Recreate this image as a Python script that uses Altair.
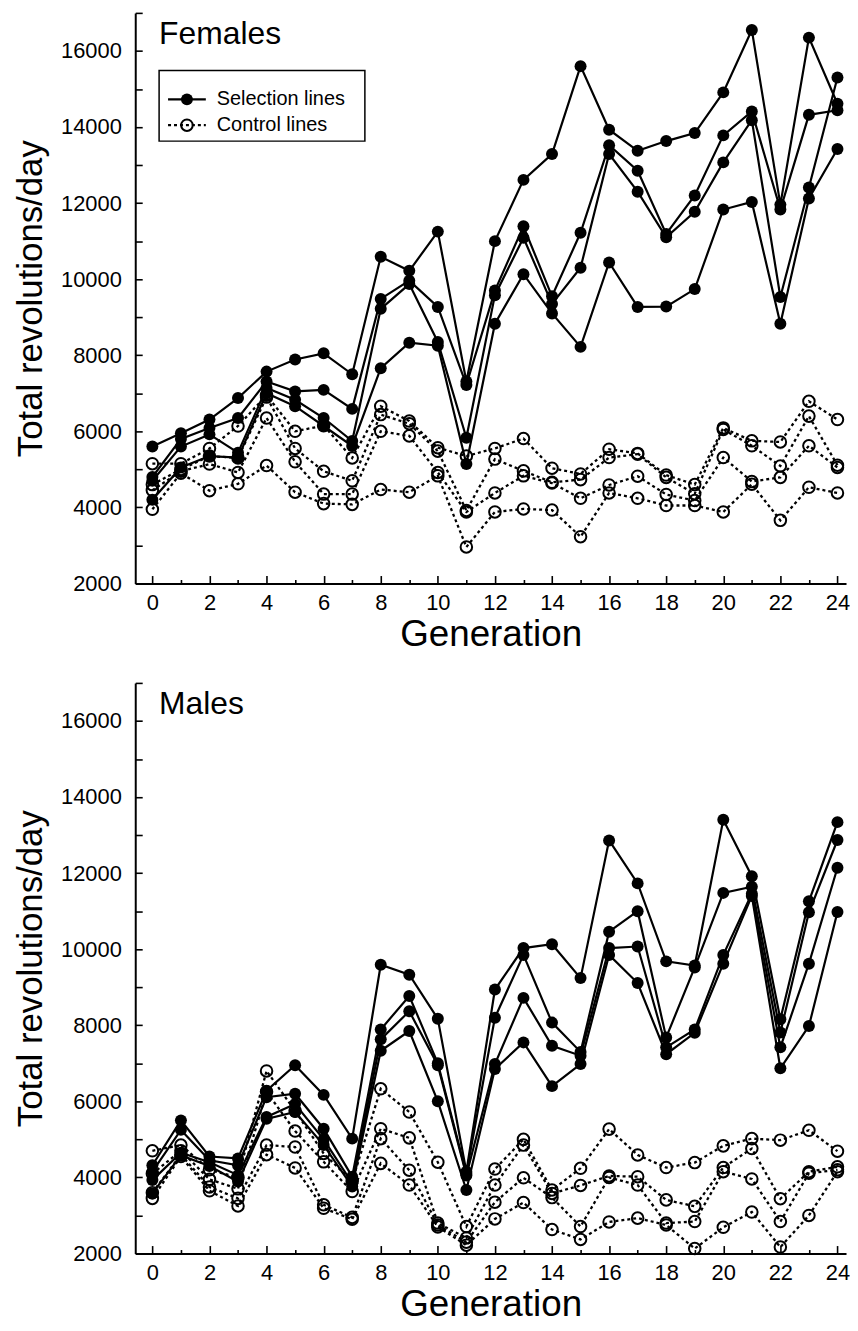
import altair as alt
import pandas as pd

generations = list(range(25))

# ---- Females: selection lines (filled circles) ----
fem_sel_1 = [5600, 5950, 6310, 6875, 7570, 7890, 8050, 7500, 10590, 10220, 11250, 7310, 11000,
             12610, 13290, 15600, 13930, 13375, 13630, 13840, 14910, 16550, 11960, 16350, 14610]
fem_sel_2 = [4800, 5800, 6090, 6350, 7310, 7050, 7090, 6590, 9480, 9960, 9270, 7220, 9700,
             11390, 9550, 11220, 13520, 12850, 11190, 12200, 13780, 14410, 11830, 14320, 14440]
fem_sel_3 = [4700, 5600, 5920, 5440, 7140, 6830, 6350, 5745, 9220, 9870, 8350, 5830, 9580,
             11090, 9350, 10300, 13290, 12300, 11100, 11770, 13070, 14180, 9530, 12410, 15300]
fem_sel_4 = [4200, 5050, 5350, 5310, 7000, 6660, 6140, 5615, 7660, 8330, 8250, 5140, 8830,
             10130, 9100, 8220, 10440, 9270, 9280, 9740, 11830, 12030, 8830, 12120, 13420]

# ---- Females: control lines (open circles) ----
fem_ctl_1 = [5150, 5150, 5550, 6140, 6950, 6000, 6150, 5300, 6660, 6270, 5570, 5350, 5550,
             5810, 5030, 4880, 5530, 5420, 4850, 4600, 6090, 5750, 5720, 6790, 6310]
fem_ctl_2 = [4600, 5000, 5350, 5300, 6900, 5550, 4950, 4700, 6440, 6200, 5480, 3920, 5270,
             4960, 4660, 4730, 5310, 5400, 4790, 4360, 6050, 5620, 5090, 6400, 5110]
fem_ctl_3 = [4450, 4950, 5140, 4920, 6350, 5200, 4350, 4350, 6000, 5880, 4920, 3880, 4380,
             4830, 4640, 4240, 4590, 4820, 4340, 4180, 5310, 4680, 4790, 5620, 5050]
fem_ctl_4 = [3950, 4900, 4440, 4620, 5100, 4400, 4100, 4080, 4470, 4400, 4830, 2960, 3880,
             3960, 3930, 3230, 4380, 4240, 4050, 4050, 3880, 4610, 3660, 4530, 4380]

# ---- Males: selection lines ----
mal_sel_1 = [4320, 5500, 4550, 4500, 6280, 6950, 6170, 5020, 9590, 9330, 8170, 4150, 8940,
             10030, 10130, 9240, 12860, 11730, 9680, 9570, 13400, 11920, 8160, 11260, 13340]
mal_sel_2 = [4150, 5250, 4450, 4320, 6110, 6200, 5280, 4020, 7890, 8770, 7000, 4100, 8200,
             9850, 8070, 7300, 10460, 11000, 7680, 9520, 11480, 11640, 7810, 10970, 12870]
mal_sel_3 = [3930, 4650, 4400, 4060, 5590, 5930, 5000, 3850, 7630, 8370, 6950, 4050, 6980,
             8720, 7460, 7200, 10030, 10070, 7420, 7890, 9850, 11460, 7420, 9620, 12140]
mal_sel_4 = [3580, 4580, 4300, 3890, 5540, 5720, 4850, 3760, 7330, 7850, 6000, 3670, 6850,
             7550, 6400, 6980, 9850, 9110, 7240, 7800, 9620, 11400, 6870, 7980, 10980]

# ---- Males: control lines ----
mal_ctl_1 = [4700, 4850, 4200, 4000, 6800, 5750, 4630, 3900, 6330, 5720, 4400, 2710, 4220,
             5000, 3670, 4240, 5270, 4590, 4260, 4390, 4830, 5020, 4980, 5240, 4690]
mal_ctl_2 = [4100, 4700, 3950, 3700, 6250, 5220, 4410, 3630, 5280, 5040, 2800, 2410, 3800,
             4850, 3580, 3790, 4040, 4020, 3410, 3240, 4260, 4760, 3440, 4150, 4280]
mal_ctl_3 = [3600, 4600, 3750, 3450, 4850, 4800, 3280, 2950, 5020, 4190, 2750, 2300, 3350,
             3990, 3470, 2710, 4000, 3800, 2800, 2840, 4150, 3960, 2840, 4110, 4200]
mal_ctl_4 = [3450, 4550, 3650, 3250, 4600, 4250, 3190, 2900, 4370, 3800, 2700, 2220, 2910,
             3340, 2630, 2370, 2830, 2930, 2750, 2130, 2690, 3090, 2170, 3000, 4150]

x_label_values = list(range(0, 25, 2))
x_minor_values = list(range(1, 25, 2))
y_label_values = list(range(2000, 16001, 2000))
y_tick_values = list(range(2000, 17001, 1000))

W, H = 715, 574
FONT = "Liberation Sans"


def long_df(lines, prefix):
    rows = []
    for i, vals in enumerate(lines):
        for g, v in zip(generations, vals):
            rows.append({"gen": g, "val": v, "line": f"{prefix}{i + 1}"})
    return pd.DataFrame(rows)


def panel(sel_lines, ctl_lines, label, with_legend):
    sel = long_df(sel_lines, "S")
    ctl = long_df(ctl_lines, "C")
    xs = alt.Scale(domain=[-0.6, 24.3], nice=False, zero=False)
    ys = alt.Scale(domain=[2000, 17000], nice=False, zero=False)

    axes = alt.Chart(sel).mark_point(opacity=0).encode(
        x=alt.X("gen:Q", scale=xs, axis=alt.Axis(
            values=x_label_values, ticks=False, tickSize=0, labelPadding=9, format="d",
            title="Generation", titlePadding=3, titleFontSize=37, labelFontSize=22)),
        y=alt.Y("val:Q", scale=ys, axis=alt.Axis(
            values=y_label_values, ticks=False, tickSize=0, labelPadding=14, format="d",
            title="Total revolutions/day", titlePadding=12, titleFontSize=35, labelFontSize=22)),
    )
    ticks_major = alt.Chart(sel).mark_point(opacity=0).encode(
        x=alt.X("gen:Q", scale=xs, axis=alt.Axis(
            orient="top", offset=-H, values=x_label_values, labels=False, domain=False,
            tickSize=8, title=None)),
        y=alt.Y("val:Q", scale=ys, axis=alt.Axis(
            orient="right", offset=-W, values=y_tick_values, labels=False, domain=False,
            tickSize=7, title=None)),
    )
    ticks_minor = alt.Chart(sel).mark_point(opacity=0).encode(
        x=alt.X("gen:Q", scale=xs, axis=alt.Axis(
            orient="top", offset=-H, values=x_minor_values, labels=False, domain=False,
            tickSize=4, title=None)),
        y=alt.Y("val:Q", scale=ys, axis=None),
    )

    enc_x = alt.X("gen:Q", scale=xs, axis=None)
    enc_y = alt.Y("val:Q", scale=ys, axis=None)

    ctl_line = alt.Chart(ctl).mark_line(color="black", strokeWidth=2.3, strokeDash=[3, 3]).encode(
        x=enc_x, y=enc_y, detail="line:N")
    ctl_pts = alt.Chart(ctl).mark_point(shape="circle", filled=False, size=135, strokeWidth=2,
                                        color="black", opacity=1).encode(x=enc_x, y=enc_y)
    sel_line = alt.Chart(sel).mark_line(color="black", strokeWidth=2.2).encode(
        x=enc_x, y=enc_y, detail="line:N")
    sel_pts = alt.Chart(sel).mark_circle(size=145, color="black", opacity=1).encode(x=enc_x, y=enc_y)

    title_txt = alt.Chart(pd.DataFrame({"t": [label]})).mark_text(
        align="left", baseline="alphabetic", fontSize=32, font=FONT, color="black").encode(
        x=alt.value(24), y=alt.value(31), text="t:N")

    layers = [axes, ticks_major, ticks_minor, ctl_line, ctl_pts, sel_line, sel_pts, title_txt]

    if with_legend:
        one = pd.DataFrame({"t": ["Selection lines", "Control lines"], "k": ["S", "C"]})
        box = alt.Chart(pd.DataFrame({"a": [0]})).mark_rect(
            fill="white", stroke="black", strokeWidth=1.5).encode(
            x=alt.value(24), x2=alt.value(231), y=alt.value(58), y2=alt.value(129))
        leg_sel_rule = alt.Chart(pd.DataFrame({"a": [0]})).mark_rule(
            color="black", strokeWidth=2.2).encode(x=alt.value(33), x2=alt.value(71), y=alt.value(87))
        leg_sel_pt = alt.Chart(pd.DataFrame({"a": [0]})).mark_circle(
            size=145, color="black", opacity=1).encode(x=alt.value(52), y=alt.value(87))
        leg_ctl_rule = alt.Chart(pd.DataFrame({"a": [0]})).mark_rule(
            color="black", strokeWidth=2.3, strokeDash=[3, 3]).encode(
            x=alt.value(33), x2=alt.value(71), y=alt.value(113))
        leg_ctl_pt = alt.Chart(pd.DataFrame({"a": [0]})).mark_point(
            shape="circle", filled=False, size=135, strokeWidth=2, color="black", opacity=1).encode(
            x=alt.value(52), y=alt.value(113))
        leg_txt1 = alt.Chart(one[one.k == "S"]).mark_text(
            align="left", baseline="middle", fontSize=20, font=FONT, color="black").encode(
            x=alt.value(82), y=alt.value(87), text="t:N")
        leg_txt2 = alt.Chart(one[one.k == "C"]).mark_text(
            align="left", baseline="middle", fontSize=20, font=FONT, color="black").encode(
            x=alt.value(82), y=alt.value(113), text="t:N")
        layers += [box, leg_sel_rule, leg_sel_pt, leg_ctl_rule, leg_ctl_pt, leg_txt1, leg_txt2]

    return alt.layer(*layers).resolve_axis(x="independent", y="independent").properties(
        width=W, height=H)


females = panel([fem_sel_1, fem_sel_2, fem_sel_3, fem_sel_4],
                [fem_ctl_1, fem_ctl_2, fem_ctl_3, fem_ctl_4], "Females", True)
males = panel([mal_sel_1, mal_sel_2, mal_sel_3, mal_sel_4],
              [mal_ctl_1, mal_ctl_2, mal_ctl_3, mal_ctl_4], "Males", False)

chart = alt.vconcat(females, males, spacing=30).properties(
    padding={"left": 5, "top": 0, "right": 0, "bottom": 0}
).configure_view(stroke=None).configure_axis(
    grid=False, domainColor="black", domainWidth=2, tickColor="black", tickWidth=1.6,
    labelFont=FONT, titleFont=FONT, labelColor="black", titleColor="black",
    titleFontWeight="normal", labelFontWeight="normal",
)

chart.save("out.html", embed_options={"renderer": "svg", "actions": False})
